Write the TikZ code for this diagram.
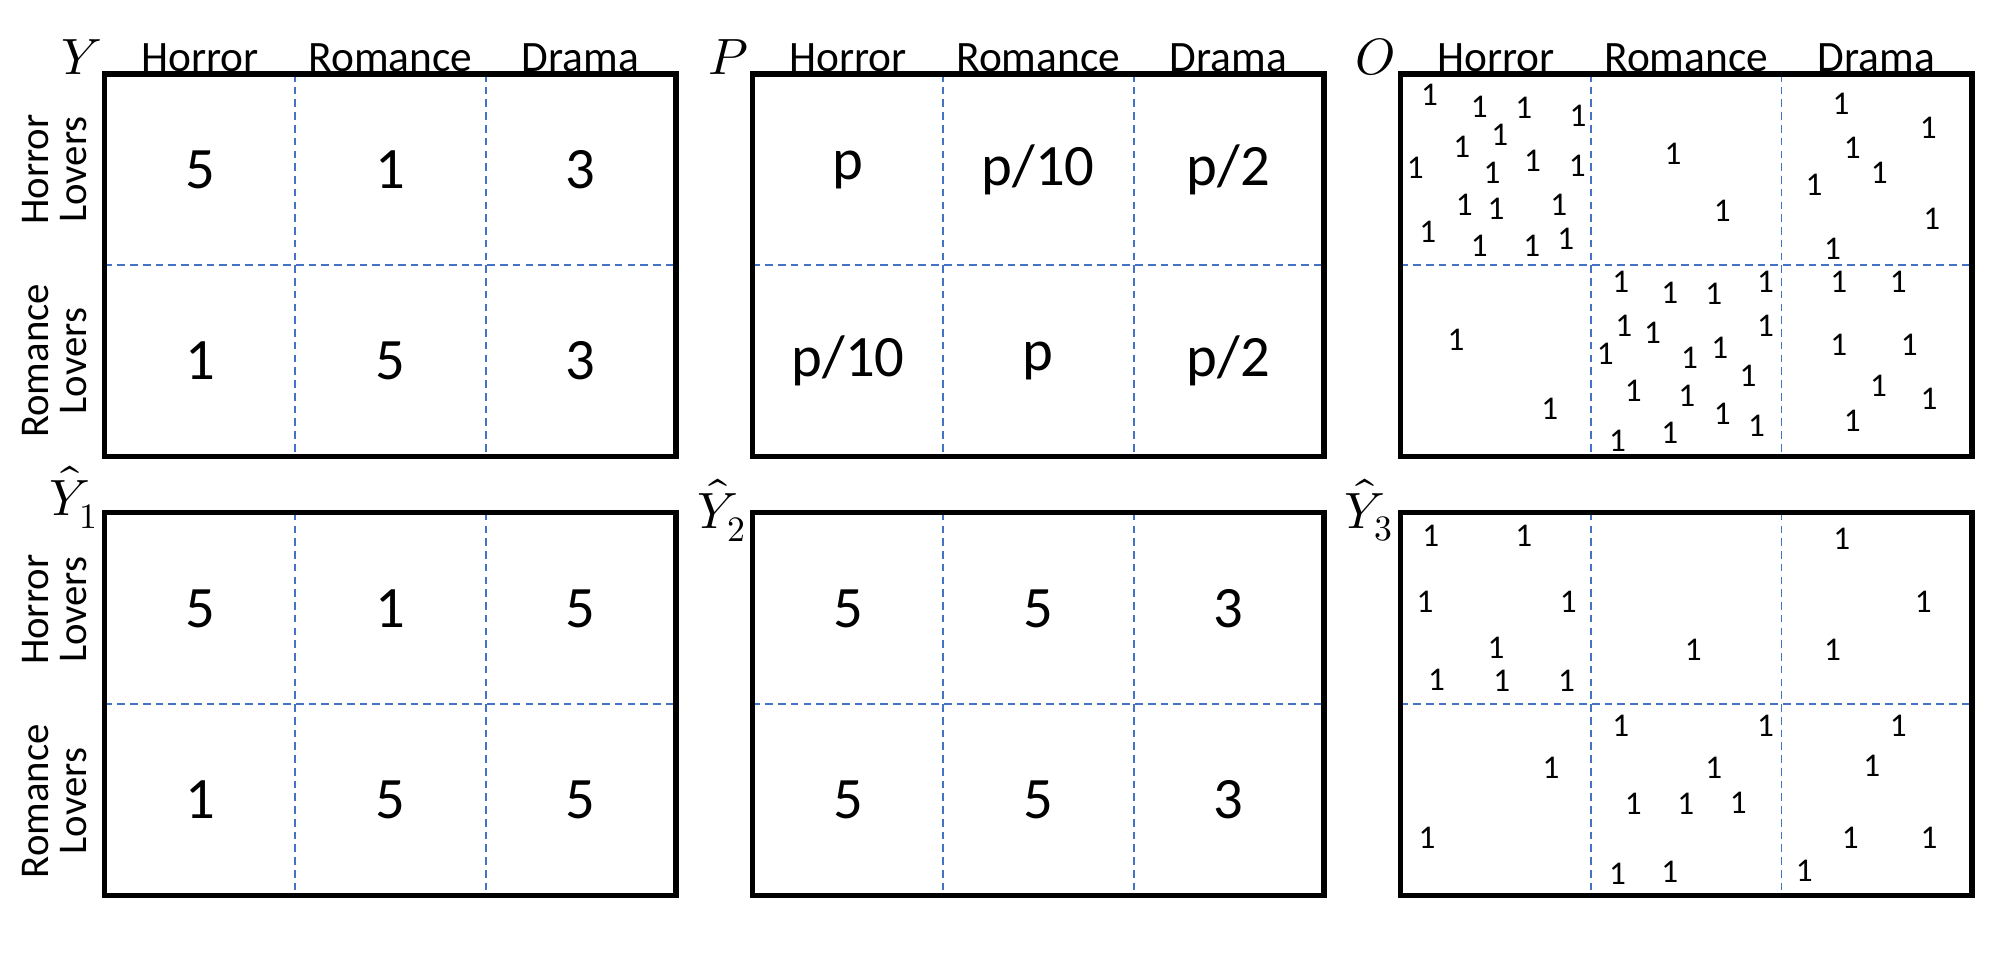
\documentclass[tikz,border=0pt]{standalone}
\usepackage{fontspec}
\usepackage{unicode-math}
\setmainfont{Carlito}
\setmathfont{Latin Modern Math}
\usetikzlibrary{positioning}
\definecolor{gridblue}{RGB}{68,114,196}

\begin{document}
\begin{tikzpicture}[
    x=1pt, y=-1pt,
    panel/.style={draw, line width=4pt, line join=miter},
    cellline/.style={draw=gridblue, line width=1.5pt, dash pattern=on 6pt off 4pt},
    head/.style={font=\fontsize{34}{36}\selectfont, inner sep=0pt},
    rowlab/.style={font=\fontsize{32}{30}\selectfont, rotate=90, align=center, inner sep=0pt},
    bignum/.style={font=\fontsize{46}{48}\selectfont, inner sep=0pt},
    onemark/.style={font=\fontsize{26}{28}\selectfont, inner sep=0pt},
    mtxname/.style={font=\fontsize{40}{40}\selectfont, inner sep=0pt}
]
\useasboundingbox (0,0) rectangle (1568,747);

% Panels and grid lines
\foreach \px/\pname in {82/a,590/b,1098/c}{
  \foreach \py/\rname in {58/t,402/u}{
    \draw[cellline] (\px+149.3,\py) -- (\px+149.3,\py+300);
    \draw[cellline] (\px+298.7,\py) -- (\px+298.7,\py+300);
    \draw[cellline] (\px,\py+150) -- (\px+448,\py+150);
    \draw[panel] (\px,\py) rectangle (\px+448,\py+300);
    \coordinate (\pname\rname) at (\px,\py);
  }
  % column heads
  \node[head] (\pname horror) at (\px+75,45) {Horror};
  \node[head] (\pname romance) at (\px+224,45) {Romance};
  \node[head] (\pname drama) at (\px+373,45) {Drama};
}

% Row labels
\node[rowlab] (hl1) at (43,133) {Horror\\Lovers};
\node[rowlab] (rl1) at (43,283) {Romance\\Lovers};
\node[rowlab] (hl2) at (43,478) {Horror\\Lovers};
\node[rowlab] (rl2) at (43,628) {Romance\\Lovers};

% Matrix names
\node[mtxname] (ny) at (64,45) {$Y$};
\node[mtxname] (np) at (571,45) {$P$};
\node[mtxname] (no) at (1078,45) {$O$};
\node[mtxname] (ny1) at (58,390) {$\hat{Y}_1$};
\node[mtxname] (ny2) at (566,400) {$\hat{Y}_2$};
\node[mtxname] (ny3) at (1073,400) {$\hat{Y}_3$};

% Cell values
\foreach \px/\py/\va/\vb/\vc/\vd/\ve/\vf in {
  82/58/5/1/3/1/5/3,
  590/58/p/p\slash10/p\slash2/p\slash10/p/p\slash2,
  82/402/5/1/5/1/5/5,
  590/402/5/5/3/5/5/3}{
  \node[bignum] at (\px+75,\py+75) {\va};
  \node[bignum] at (\px+224,\py+75) {\vb};
  \node[bignum] at (\px+373,\py+75) {\vc};
  \node[bignum] at (\px+75,\py+225) {\vd};
  \node[bignum] at (\px+224,\py+225) {\ve};
  \node[bignum] at (\px+373,\py+225) {\vf};
}

% Observed ones
\begin{scope}[shift={(ct)}]
\foreach \u/\v in {22.8/16.5,61.7/25.6,96.7/26.2,139.2/32.7,48/56.8,77.8/47.9,11.6/73.2,
  71.7/77.2,103.4/68,138.6/71.9,49.9/102.8,74.8/105.9,124/102.8,21.3/123.5,61.7/134.7,
  102.8/134.7,129.5/129.5,213.7/62.3,252.3/107.3,345.3/23.5,413.7/42.6,354.2/57.6,
  375.4/77.7,324.1/87.1,416.5/113.3,338.7/137.3,43.5/208.5,117/262.9,172.7/162.7,
  211/171.3,245.6/172.7,286.1/162.7,175.1/197.5,197.6/203.3,160.5/219.7,226.5/222.4,
  250.2/214.5,286.1/197.5,272.4/236.7,182.4/248.5,224.4/252.4,252.3/266.8,279.1/276,
  170.2/287.8,211/281.2,343.5/162.7,390.3/162.7,343.5/212.7,398.8/212.7,374.8/244.1,
  414.4/254.5,354.2/272.1}
  \node[onemark] at (\u,\v) {1};
\end{scope}

% Predicted ones
\begin{scope}[shift={(cu)}]
\foreach \u/\v in {23.7/18.3,96.7/18.3,19.2/70,131.6/70,74.8/105.7,28.3/131.1,79.3/131.9,
  130.1/131.9,229.5/107.6,345.9/20.4,409.8/70,338.7/107.8,118/199.7,20.7/254.6,
  172.7/167.1,286.1/167.1,245.6/199.7,182.4/228.5,223.7/228.5,264.8/227.7,170.2/283.3,
  211/281.5,390.3/167.1,369.4/198.4,352.6/254.6,414.4/254.6,316.5/280.7}
  \node[onemark] at (\u,\v) {1};
\end{scope}

\end{tikzpicture}
\end{document}
